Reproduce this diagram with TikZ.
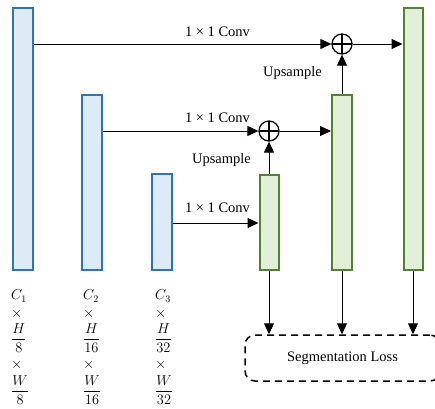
\documentclass[tikz,border=0pt]{standalone}
\usepackage{amsmath}
\usepackage{fontspec}
\setmainfont{Liberation Serif}
\usetikzlibrary{arrows.meta}
\definecolor{bstroke}{HTML}{2E75B6}
\definecolor{bfill}{HTML}{DEEBF7}
\definecolor{gstroke}{HTML}{548235}
\definecolor{gfill}{HTML}{E2F0D9}
\begin{document}
\begin{tikzpicture}[x=1pt,y=-1pt,
  font=\fontsize{14.5}{17}\selectfont,
  bbar/.style={draw=bstroke,fill=bfill,line width=2pt,inner sep=0pt},
  gbar/.style={draw=gstroke,fill=gfill,line width=2pt,inner sep=0pt},
  arr/.style={line width=1pt,-{Triangle[length=11pt,width=10pt]}},
  plusnode/.style={circle,draw,line width=1.3pt,minimum size=20pt,inner sep=0pt,
    path picture={\draw[line width=1.3pt] (path picture bounding box.north) -- (path picture bounding box.south)
      (path picture bounding box.west) -- (path picture bounding box.east);}},
  lbl/.style={inner sep=0pt},
  dims/.style={inner sep=0pt,anchor=west,font=\fontsize{14}{16}\selectfont}]
\useasboundingbox (0,0) rectangle (435,408);
% encoder bars
\node[bbar,minimum width=20pt,minimum height=262pt] (b1) at (22.5,138.5) {};
\node[bbar,minimum width=20pt,minimum height=175pt] (b2) at (91.5,182) {};
\node[bbar,minimum width=20pt,minimum height=96pt] (b3) at (162,222) {};
% decoder bars
\node[gbar,minimum width=19pt,minimum height=95pt] (g1) at (269,222) {};
\node[gbar,minimum width=20pt,minimum height=175pt] (g2) at (342,182) {};
\node[gbar,minimum width=19pt,minimum height=262pt] (g3) at (413,138.5) {};
% plus nodes
\node[plusnode] (p1) at (342,44) {};
\node[plusnode] (p2) at (269,131) {};
% loss box
\node[draw,dashed,dash pattern=on 7pt off 5pt,line width=1.5pt,rounded corners=10pt,
  minimum width=195pt,minimum height=46pt,inner sep=0pt] (loss) at (342.5,358) {Segmentation Loss};
% connectors
\draw[arr] (b1.east |- p1) -- (p1.west);
\draw[arr] (p1.east) -- (g3.west |- p1);
\draw[arr] (g2.north) -- (p1.south);
\draw[arr] (b2.east |- p2) -- (p2.west);
\draw[arr] (p2.east) -- (g2.west |- p2);
\draw[arr] (g1.north) -- (p2.south);
\draw[arr] (b3.east |- 0,223) -- (g1.west |- 0,223);
\draw[arr] (g1.south) -- (g1.south |- loss.north);
\draw[arr] (g2.south) -- (g2.south |- loss.north);
\draw[arr] (g3.south) -- (g3.south |- loss.north);
% labels
\node[lbl] (c1) at (217.5,32) {1 × 1 Conv};
\node[lbl] (c2) at (217.5,118) {1 × 1 Conv};
\node[lbl] (c3) at (217.5,208) {1 × 1 Conv};
\node[lbl] (u1) at (292.5,73) {Upsample};
\node[lbl] (u2) at (221.5,160) {Upsample};
% dimension labels
\node[dims] (d1c) at (11,296) {$C_1$};
\node[dims] (d1x) at (11,314) {$\times$};
\node[dims] (d1h) at (11,338) {$\dfrac{H}{8}$};
\node[dims] (d1y) at (11,365) {$\times$};
\node[dims] (d1w) at (11,390) {$\dfrac{W}{8}$};
\node[dims] (d2c) at (83,296) {$C_2$};
\node[dims] (d2x) at (83,314) {$\times$};
\node[dims] (d2h) at (83,338) {$\dfrac{H}{16}$};
\node[dims] (d2y) at (83,365) {$\times$};
\node[dims] (d2w) at (83,390) {$\dfrac{W}{16}$};
\node[dims] (d3c) at (155,296) {$C_3$};
\node[dims] (d3x) at (155,314) {$\times$};
\node[dims] (d3h) at (155,338) {$\dfrac{H}{32}$};
\node[dims] (d3y) at (155,365) {$\times$};
\node[dims] (d3w) at (155,390) {$\dfrac{W}{32}$};
\end{tikzpicture}
\end{document}
